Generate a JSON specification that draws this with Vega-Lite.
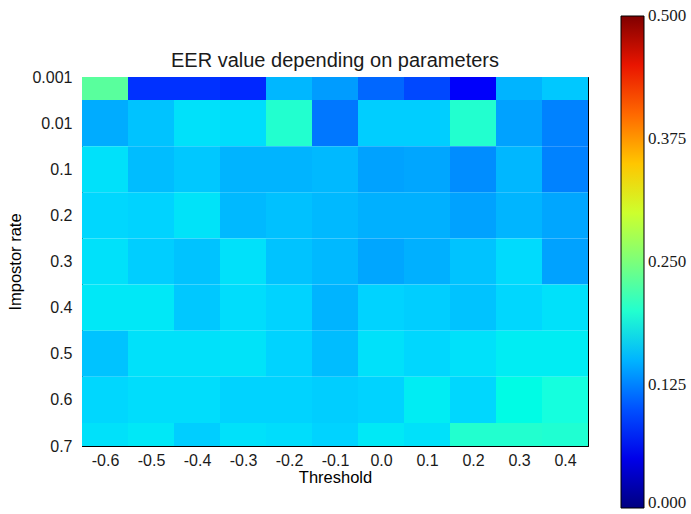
{
  "$schema": "https://vega.github.io/schema/vega-lite/v6.json",
  "width": 506,
  "height": 369,
  "autosize": {"type": "none"},
  "padding": {"left": 82, "top": 77, "right": 103, "bottom": 68},
  "background": "white",
  "title": {"text": "EER value depending on parameters", "font": "Liberation Sans", "fontSize": 20, "fontWeight": "normal", "color": "#1a1a1a", "offset": -55},
  "config": {
    "view": {"stroke": "black", "strokeWidth": 1},
    "axis": {"labelFont": "Liberation Sans", "labelFontSize": 16, "labelColor": "#1a1a1a", "titleFont": "Liberation Sans", "titleFontSize": 16.5, "titleFontWeight": "normal", "titleColor": "black", "domainColor": "black", "tickColor": "black", "grid": false, "tickSize": -5, "labelPadding": 15}
  },
  "data": {"values": [
    {"t": -0.6, "r": 0, "v": 0.23}, {"t": -0.5, "r": 0, "v": 0.082}, {"t": -0.4, "r": 0, "v": 0.082}, {"t": -0.3, "r": 0, "v": 0.076}, {"t": -0.2, "r": 0, "v": 0.152}, {"t": -0.1, "r": 0, "v": 0.138}, {"t": 0.0, "r": 0, "v": 0.111}, {"t": 0.1, "r": 0, "v": 0.097}, {"t": 0.2, "r": 0, "v": 0.06}, {"t": 0.3, "r": 0, "v": 0.15}, {"t": 0.4, "r": 0, "v": 0.16},
    {"t": -0.6, "r": 1, "v": 0.146}, {"t": -0.5, "r": 1, "v": 0.158}, {"t": -0.4, "r": 1, "v": 0.172}, {"t": -0.3, "r": 1, "v": 0.17}, {"t": -0.2, "r": 1, "v": 0.2}, {"t": -0.1, "r": 1, "v": 0.12}, {"t": 0.0, "r": 1, "v": 0.163}, {"t": 0.1, "r": 1, "v": 0.163}, {"t": 0.2, "r": 1, "v": 0.2}, {"t": 0.3, "r": 1, "v": 0.141}, {"t": 0.4, "r": 1, "v": 0.126},
    {"t": -0.6, "r": 2, "v": 0.172}, {"t": -0.5, "r": 2, "v": 0.155}, {"t": -0.4, "r": 2, "v": 0.16}, {"t": -0.3, "r": 2, "v": 0.15}, {"t": -0.2, "r": 2, "v": 0.15}, {"t": -0.1, "r": 2, "v": 0.153}, {"t": 0.0, "r": 2, "v": 0.141}, {"t": 0.1, "r": 2, "v": 0.143}, {"t": 0.2, "r": 2, "v": 0.131}, {"t": 0.3, "r": 2, "v": 0.152}, {"t": 0.4, "r": 2, "v": 0.126},
    {"t": -0.6, "r": 3, "v": 0.167}, {"t": -0.5, "r": 3, "v": 0.165}, {"t": -0.4, "r": 3, "v": 0.173}, {"t": -0.3, "r": 3, "v": 0.153}, {"t": -0.2, "r": 3, "v": 0.157}, {"t": -0.1, "r": 3, "v": 0.153}, {"t": 0.0, "r": 3, "v": 0.148}, {"t": 0.1, "r": 3, "v": 0.148}, {"t": 0.2, "r": 3, "v": 0.141}, {"t": 0.3, "r": 3, "v": 0.151}, {"t": 0.4, "r": 3, "v": 0.143},
    {"t": -0.6, "r": 4, "v": 0.172}, {"t": -0.5, "r": 4, "v": 0.163}, {"t": -0.4, "r": 4, "v": 0.158}, {"t": -0.3, "r": 4, "v": 0.172}, {"t": -0.2, "r": 4, "v": 0.158}, {"t": -0.1, "r": 4, "v": 0.153}, {"t": 0.0, "r": 4, "v": 0.143}, {"t": 0.1, "r": 4, "v": 0.148}, {"t": 0.2, "r": 4, "v": 0.158}, {"t": 0.3, "r": 4, "v": 0.169}, {"t": 0.4, "r": 4, "v": 0.141},
    {"t": -0.6, "r": 5, "v": 0.175}, {"t": -0.5, "r": 5, "v": 0.175}, {"t": -0.4, "r": 5, "v": 0.16}, {"t": -0.3, "r": 5, "v": 0.17}, {"t": -0.2, "r": 5, "v": 0.165}, {"t": -0.1, "r": 5, "v": 0.15}, {"t": 0.0, "r": 5, "v": 0.165}, {"t": 0.1, "r": 5, "v": 0.163}, {"t": 0.2, "r": 5, "v": 0.158}, {"t": 0.3, "r": 5, "v": 0.167}, {"t": 0.4, "r": 5, "v": 0.172},
    {"t": -0.6, "r": 6, "v": 0.158}, {"t": -0.5, "r": 6, "v": 0.172}, {"t": -0.4, "r": 6, "v": 0.172}, {"t": -0.3, "r": 6, "v": 0.173}, {"t": -0.2, "r": 6, "v": 0.165}, {"t": -0.1, "r": 6, "v": 0.155}, {"t": 0.0, "r": 6, "v": 0.172}, {"t": 0.1, "r": 6, "v": 0.167}, {"t": 0.2, "r": 6, "v": 0.172}, {"t": 0.3, "r": 6, "v": 0.178}, {"t": 0.4, "r": 6, "v": 0.178},
    {"t": -0.6, "r": 7, "v": 0.167}, {"t": -0.5, "r": 7, "v": 0.17}, {"t": -0.4, "r": 7, "v": 0.17}, {"t": -0.3, "r": 7, "v": 0.165}, {"t": -0.2, "r": 7, "v": 0.165}, {"t": -0.1, "r": 7, "v": 0.163}, {"t": 0.0, "r": 7, "v": 0.165}, {"t": 0.1, "r": 7, "v": 0.178}, {"t": 0.2, "r": 7, "v": 0.167}, {"t": 0.3, "r": 7, "v": 0.186}, {"t": 0.4, "r": 7, "v": 0.19},
    {"t": -0.6, "r": 8, "v": 0.172}, {"t": -0.5, "r": 8, "v": 0.175}, {"t": -0.4, "r": 8, "v": 0.163}, {"t": -0.3, "r": 8, "v": 0.172}, {"t": -0.2, "r": 8, "v": 0.17}, {"t": -0.1, "r": 8, "v": 0.165}, {"t": 0.0, "r": 8, "v": 0.176}, {"t": 0.1, "r": 8, "v": 0.172}, {"t": 0.2, "r": 8, "v": 0.2}, {"t": 0.3, "r": 8, "v": 0.2}, {"t": 0.4, "r": 8, "v": 0.198}
  ]},
  "transform": [
    {"calculate": "datum.t - 0.05", "as": "t0"},
    {"calculate": "datum.t + 0.05", "as": "t1"},
    {"calculate": "datum.r - 0.5", "as": "r0"},
    {"calculate": "datum.r + 0.5", "as": "r1"}
  ],
  "layer": [
    {
      "mark": {"type": "rect", "clip": true},
      "encoding": {
        "x": {"field": "t0", "type": "quantitative", "scale": {"domain": [-0.65, 0.45], "nice": false, "zero": false},
              "axis": {"title": "Threshold", "values": [-0.6, -0.5, -0.4, -0.3, -0.2, -0.1, 0, 0.1, 0.2, 0.3, 0.4], "labelPadding": 11,
                       "labelExpr": "datum.value < -0.001 ? '-' + format(-datum.value, '.1f') : format(abs(datum.value), '.1f')", "titlePadding": 1}},
        "x2": {"field": "t1"},
        "y": {"field": "r0", "type": "quantitative", "scale": {"domain": [0, 8], "nice": false, "zero": false, "reverse": true},
              "axis": {"title": "Impostor rate", "values": [0, 1, 2, 3, 4, 5, 6, 7, 8],
                       "labelExpr": "['0.001','0.01','0.1','0.2','0.3','0.4','0.5','0.6','0.7'][datum.value]", "titlePadding": 8}},
        "y2": {"field": "r1"},
        "color": {"field": "v", "type": "quantitative",
                  "scale": {"domain": [0, 0.03125, 0.0625, 0.09375, 0.125, 0.15625, 0.1875, 0.21875, 0.25, 0.28125, 0.3125, 0.34375, 0.375, 0.40625, 0.4375, 0.46875, 0.5],
                            "range": ["#000080", "#0000C8", "#0000FF", "#0040FF", "#0080FF", "#00BFFF", "#15FFE2", "#48FFAF", "#7BFF7B", "#AFFF48", "#E2FF15", "#FFD200", "#FF9700", "#FF5C00", "#FF2100", "#C80000", "#800000"]},
                  "legend": {"title": null, "orient": "none", "legendX": 539, "legendY": -61, "direction": "vertical",
                             "gradientLength": 492, "gradientThickness": 23, "gradientStrokeColor": "black", "gradientStrokeWidth": 1,
                             "values": [0, 0.125, 0.25, 0.375, 0.5], "format": ".3f", "labelOffset": 4, "padding": 0,
                             "labelFont": "Liberation Serif", "labelFontSize": 17, "labelColor": "#1a1a1a",
                             "encode": {"labels": {"update": {"baseline": {"signal": "datum.value <= 0 ? 'alphabetic' : 'middle'"}}}}}}
      }
    },
    {
      "mark": {"type": "rect", "opacity": 0, "clip": true},
      "encoding": {
        "x": {"field": "t0", "type": "quantitative", "axis": {"orient": "top", "labels": false, "title": null, "domain": false, "values": [-0.6, -0.5, -0.4, -0.3, -0.2, -0.1, 0, 0.1, 0.2, 0.3, 0.4]}},
        "x2": {"field": "t1"},
        "y": {"field": "r0", "type": "quantitative", "axis": {"orient": "right", "labels": false, "title": null, "domain": false, "values": [0, 1, 2, 3, 4, 5, 6, 7, 8]}},
        "y2": {"field": "r1"}
      }
    }
  ],
  "resolve": {"axis": {"x": "independent", "y": "independent"}}
}
